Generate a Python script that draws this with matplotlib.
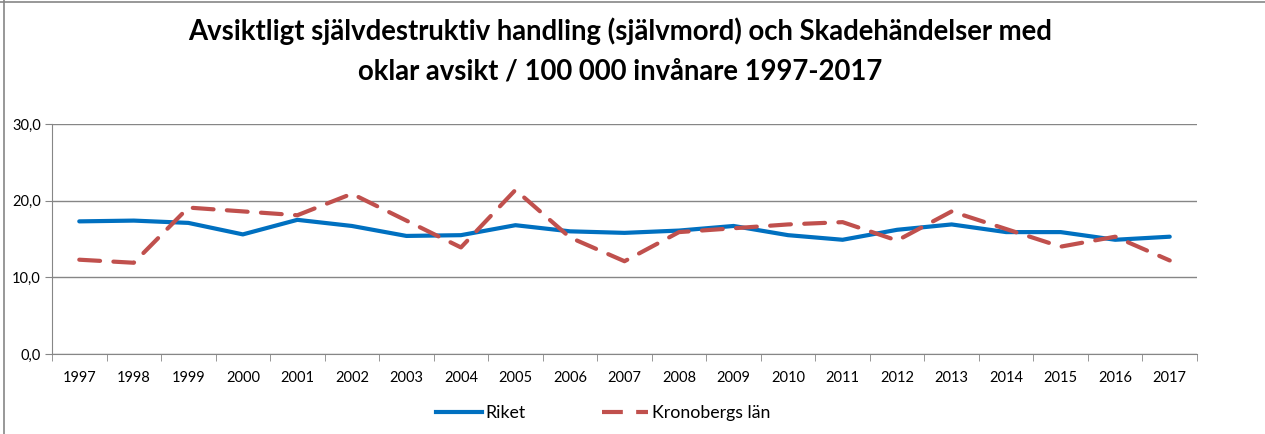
import matplotlib.pyplot as plt
from matplotlib.ticker import FixedLocator, NullFormatter
from matplotlib.lines import Line2D

years = [str(y) for y in range(1997, 2018)]
riket = [17.3, 17.4, 17.1, 15.6, 17.5, 16.7, 15.4, 15.5, 16.8, 16.0, 15.8,
         16.1, 16.7, 15.5, 14.9, 16.2, 16.9, 15.9, 15.9, 14.9, 15.3]
kronoberg = [12.3, 11.9, 19.1, 18.6, 18.1, 20.9, 17.4, 13.9, 21.4, 15.2, 12.1,
             15.9, 16.4, 16.9, 17.2, 14.8, 18.6, 16.3, 14.0, 15.3, 12.2]
yticks = [0, 10, 20, 30]
ytick_labels = ['0,0', '10,0', '20,0', '30,0']
title = 'Avsiktligt självdestruktiv handling (självmord) och Skadehändelser med\noklar avsikt / 100 000 invånare 1997-2017'

plt.rcParams['font.family'] = ['Lato', 'DejaVu Sans']

fig = plt.figure(figsize=(12.65, 4.34), dpi=100)
ax = fig.add_axes([52 / 1265, 1 - 354 / 434, (1197 - 52) / 1265, 230 / 434])

x = list(range(len(years)))
ax.plot(x, riket, color='#0070C0', lw=3, solid_capstyle='round', label='Riket')
ax.plot(x, kronoberg, color='#C0504D', lw=3, dashes=(5, 3.2), dash_capstyle='round',
        label='Kronobergs län')

ax.set_xlim(-0.5, len(years) - 0.5)
ax.set_ylim(0, 30)
ax.set_yticks(yticks)
ax.set_yticklabels(ytick_labels)
ax.set_xticks(x)
ax.set_xticklabels(years)
ax.xaxis.set_minor_locator(FixedLocator([i - 0.5 for i in range(len(years) + 1)]))
ax.xaxis.set_minor_formatter(NullFormatter())
ax.tick_params(axis='x', which='major', length=0, pad=12, labelsize=10.5, colors='black')
ax.tick_params(axis='x', which='minor', length=5, color='#868686', direction='out')
ax.tick_params(axis='y', length=5, color='#868686', labelsize=10.5, pad=3)
ax.grid(axis='y', color='#868686', lw=1)
ax.set_axisbelow(True)
for s in ['top', 'right']:
    ax.spines[s].set_visible(False)
for s in ['left', 'bottom']:
    ax.spines[s].set_color('#868686')

fig.text(620 / 1265, 1 - 51 / 434, title, ha='center', va='center', fontsize=19.8,
         fontweight='bold', linespacing=1.62)

handles = [Line2D([], [], color='#0070C0', lw=3),
           Line2D([], [], color='#C0504D', lw=3, dashes=(5, 3.2))]
fig.legend(handles, ['Riket', 'Kronobergs län'], loc='center', ncol=2,
           bbox_to_anchor=(603 / 1265, 1 - 413 / 434), frameon=False, fontsize=12.8,
           handlelength=2.6, handletextpad=0.2, columnspacing=4.3)

# chart frame edges
fig.add_artist(Line2D([0, 1], [1 - 1.5 / 434] * 2, color='#868686', lw=1.2))
fig.add_artist(Line2D([4 / 1265] * 2, [0, 1], color='#868686', lw=1.2))

fig.savefig('out.png', dpi=100)
